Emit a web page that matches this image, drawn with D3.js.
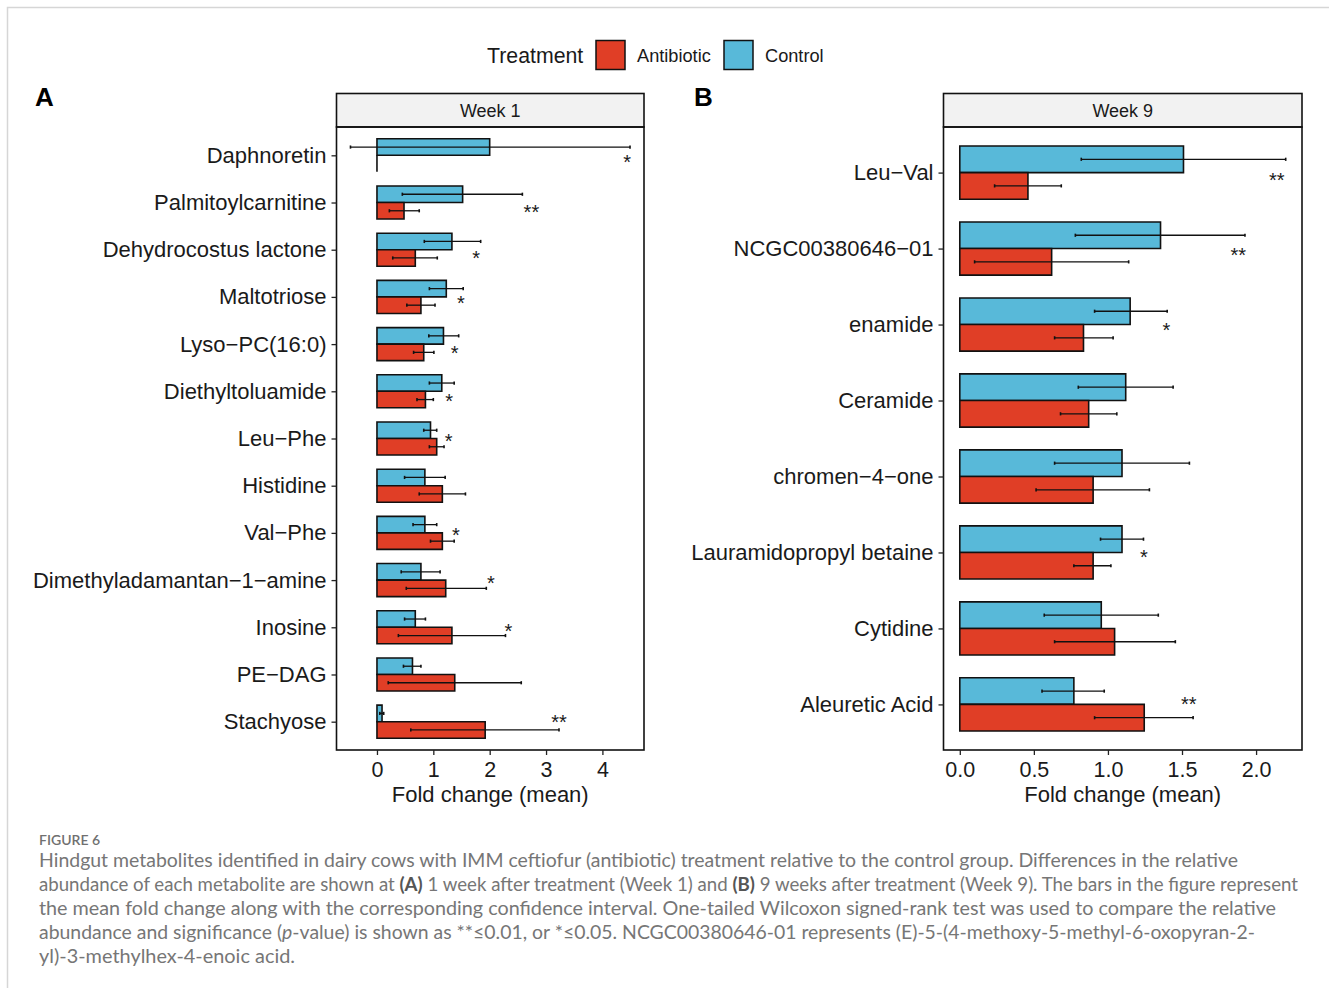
<!DOCTYPE html>
<html>
<head>
<meta charset="utf-8">
<script src="https://cdn.jsdelivr.net/npm/d3@7"></script>
<style>
  html, body { margin: 0; padding: 0; background: #fff; }
  svg { display: block; }
</style>
</head>
<body>
<svg id="fig" width="1329" height="988"></svg>
<script>
// ---- Week 1 metabolites (fold change, mean with CI) ----
const week1Categories = ["Daphnoretin", "Palmitoylcarnitine", "Dehydrocostus lactone", "Maltotriose",
  "Lyso\u2212PC(16:0)", "Diethyltoluamide", "Leu\u2212Phe", "Histidine", "Val\u2212Phe",
  "Dimethyladamantan\u22121\u2212amine", "Inosine", "PE\u2212DAG", "Stachyose"];
const week1Control      = [2.00, 1.52, 1.33, 1.23, 1.18, 1.15, 0.95, 0.85, 0.85, 0.78, 0.68, 0.63, 0.09];
const week1ControlLo    = [-0.47, 0.45, 0.84, 0.93, 0.92, 0.93, 0.83, 0.49, 0.64, 0.43, 0.49, 0.47, 0.05];
const week1ControlHi    = [4.49, 2.58, 1.84, 1.53, 1.45, 1.37, 1.06, 1.21, 1.06, 1.12, 0.86, 0.78, 0.12];
const week1Antibiotic   = [0.00, 0.48, 0.68, 0.78, 0.83, 0.86, 1.06, 1.16, 1.16, 1.22, 1.33, 1.38, 1.92];
const week1AntibioticLo = [0.00, 0.22, 0.28, 0.53, 0.65, 0.71, 0.93, 0.75, 0.95, 0.52, 0.38, 0.20, 0.60];
const week1AntibioticHi = [0.00, 0.75, 1.07, 1.03, 1.01, 1.00, 1.19, 1.57, 1.37, 1.94, 2.28, 2.56, 3.23];
const week1Signif       = ["*", "**", "*", "*", "*", "*", "*", "", "*", "*", "*", "", "**"];
const week1SignifAt     = [4.44, 2.74, 1.76, 1.49, 1.38, 1.28, 1.27, null, 1.40, 2.02, 2.33, null, 3.23];
const week1SignifShift  = [0.04, 0.10, 0.09, 0.03, 0.09, 0.11, -0.05, 0, -0.05, -0.04, -0.01, 0, -0.08];
const week1Ticks = [0, 1, 2, 3, 4];

// ---- Week 9 metabolites ----
const week9Categories = ["Leu\u2212Val", "NCGC00380646\u221201", "enamide", "Ceramide",
  "chromen\u22124\u2212one", "Lauramidopropyl betaine", "Cytidine", "Aleuretic Acid"];
const week9Control      = [1.51, 1.355, 1.15, 1.12, 1.095, 1.095, 0.955, 0.77];
const week9ControlLo    = [0.82, 0.78, 0.91, 0.80, 0.64, 0.95, 0.57, 0.555];
const week9ControlHi    = [2.20, 1.925, 1.40, 1.44, 1.55, 1.24, 1.34, 0.975];
const week9Antibiotic   = [0.46, 0.62, 0.835, 0.87, 0.90, 0.90, 1.045, 1.245];
const week9AntibioticLo = [0.235, 0.10, 0.64, 0.68, 0.515, 0.77, 0.64, 0.91];
const week9AntibioticHi = [0.685, 1.14, 1.035, 1.06, 1.28, 1.02, 1.455, 1.575];
const week9Signif       = ["**", "**", "*", "", "", "*", "", "**"];
const week9SignifAt     = [2.14, 1.88, 1.395, null, null, 1.243, null, 1.546];
const week9SignifShift  = [0.04, 0.02, 0.01, 0, 0, 0, 0, -0.06];
const week9Ticks = [0, 0.5, 1, 1.5, 2];

const treatments = ["Antibiotic", "Control"];
const treatmentColors = { Antibiotic: "#E03E26", Control: "#58B9D9" };

// ---- drawing ----
const svg = d3.select("#fig");
const FONT = "'Liberation Sans', Arial, Helvetica, sans-serif";

svg.append("rect").attr("width", 1329).attr("height", 988).attr("fill", "#fff");
// card outline
svg.append("path")
  .attr("d", "M7.5,988 V7.5 H1329")
  .attr("fill", "none").attr("stroke", "#d6d6d6").attr("stroke-width", 1.5);

// legend
const legend = svg.append("g").attr("font-family", FONT).attr("fill", "#1a1a1a");
legend.append("text").attr("x", 487).attr("y", 62.5).attr("font-size", 21.3).text("Treatment");
const legendX = { Antibiotic: 596, Control: 724 };
treatments.forEach(t => {
  legend.append("rect").attr("x", legendX[t]).attr("y", 40.5).attr("width", 29).attr("height", 29)
    .attr("fill", treatmentColors[t]).attr("stroke", "#111").attr("stroke-width", 1.5);
  legend.append("text").attr("x", legendX[t] + 41).attr("y", 61.5).attr("font-size", 18.2).text(t);
});

// panel tags
svg.append("text").attr("x", 35).attr("y", 106).attr("font-family", FONT)
  .attr("font-weight", "bold").attr("font-size", 26).text("A");
svg.append("text").attr("x", 694).attr("y", 106).attr("font-family", FONT)
  .attr("font-weight", "bold").attr("font-size", 26).text("B");

function drawPanel(p) {
  const g = svg.append("g").attr("font-family", FONT);
  const allLo = d3.min([...p.ctrlLo, ...p.abxLo, ...p.ctrl, ...p.abx, 0]);
  const allHi = d3.max([...p.ctrlHi, ...p.abxHi, ...p.ctrl, ...p.abx]);
  const pad = (allHi - allLo) * 0.05;
  const x = d3.scaleLinear().domain([allLo - pad, allHi + pad]).range([p.left, p.right]);
  const y = d3.scalePoint().domain(p.cats).range([p.top, p.bottom]).padding(0.6);
  const half = y.step() * 0.35;

  // strip
  g.append("rect").attr("x", p.left).attr("y", p.stripTop)
    .attr("width", p.right - p.left).attr("height", p.top - p.stripTop)
    .attr("fill", "#F2F2F2").attr("stroke", "#111").attr("stroke-width", 1.6);
  g.append("text").attr("x", (p.left + p.right) / 2).attr("y", p.stripTop + 23)
    .attr("text-anchor", "middle").attr("font-size", 18).attr("fill", "#1a1a1a").text(p.title);

  const rows = p.cats.map((c, i) => ([
    { cat: c, t: "Control", v: p.ctrl[i], lo: p.ctrlLo[i], hi: p.ctrlHi[i], off: -half / 2 },
    { cat: c, t: "Antibiotic", v: p.abx[i], lo: p.abxLo[i], hi: p.abxHi[i], off: half / 2 }
  ])).flat();

  // bars (paths so that a zero-length bar still shows its outline)
  g.append("g").selectAll("path").data(rows).join("path")
    .attr("d", d => {
      const yc = y(d.cat) + d.off;
      const x0 = x(0), x1 = x(d.v);
      return `M${x0},${yc - half / 2}H${x1}V${yc + half / 2}H${x0}Z`;
    })
    .attr("fill", d => treatmentColors[d.t])
    .attr("stroke", "#111").attr("stroke-width", 1.6);

  // error bars
  const eb = g.append("g").attr("stroke", "#111").attr("stroke-width", 1.3);
  rows.filter(d => d.hi > d.lo).forEach(d => {
    const yc = y(d.cat) + d.off;
    eb.append("line").attr("x1", x(d.lo)).attr("x2", x(d.hi)).attr("y1", yc).attr("y2", yc);
    [d.lo, d.hi].forEach(v => {
      eb.append("line").attr("x1", x(v)).attr("x2", x(v)).attr("y1", yc - 1.6).attr("y2", yc + 1.6)
        .attr("stroke-width", 1.6);
    });
  });

  // significance marks
  p.cats.forEach((c, i) => {
    if (!p.sig[i]) return;
    g.append("text")
      .attr("x", x(p.sigAt[i]))
      .attr("y", y(c) + p.sigShift[i] * y.step() + 11.5)
      .attr("text-anchor", "middle").attr("font-size", 20).attr("fill", "#1a1a1a")
      .text(p.sig[i]);
  });

  // panel border
  g.append("rect").attr("x", p.left).attr("y", p.top)
    .attr("width", p.right - p.left).attr("height", p.bottom - p.top)
    .attr("fill", "none").attr("stroke", "#111").attr("stroke-width", 1.6);

  // axes
  const ya = g.append("g").attr("transform", `translate(${p.left},0)`)
    .call(d3.axisLeft(y).tickSize(5).tickPadding(5));
  const xa = g.append("g").attr("transform", `translate(0,${p.bottom})`)
    .call(d3.axisBottom(x).tickValues(p.ticks).tickFormat(p.fmt).tickSize(5).tickPadding(7));
  [ya, xa].forEach(a => {
    a.select(".domain").remove();
    a.selectAll(".tick line").attr("stroke", "#222").attr("stroke-width", 1.3);
    a.selectAll(".tick text").attr("font-family", FONT).attr("fill", "#1a1a1a");
  });
  ya.selectAll(".tick text").attr("font-size", 22);
  xa.selectAll(".tick text").attr("font-size", 21.5);

  g.append("text").attr("x", (p.left + p.right) / 2).attr("y", 802)
    .attr("text-anchor", "middle").attr("font-size", 22).attr("fill", "#1a1a1a")
    .text("Fold change (mean)");
}

drawPanel({
  title: "Week 1", left: 336.5, right: 644, stripTop: 93.5, top: 127, bottom: 750,
  cats: week1Categories, ctrl: week1Control, ctrlLo: week1ControlLo, ctrlHi: week1ControlHi,
  abx: week1Antibiotic, abxLo: week1AntibioticLo, abxHi: week1AntibioticHi,
  sig: week1Signif, sigAt: week1SignifAt, sigShift: week1SignifShift,
  ticks: week1Ticks, fmt: d3.format("d")
});
drawPanel({
  title: "Week 9", left: 943.5, right: 1302, stripTop: 93.5, top: 127, bottom: 750,
  cats: week9Categories, ctrl: week9Control, ctrlLo: week9ControlLo, ctrlHi: week9ControlHi,
  abx: week9Antibiotic, abxLo: week9AntibioticLo, abxHi: week9AntibioticHi,
  sig: week9Signif, sigAt: week9SignifAt, sigShift: week9SignifShift,
  ticks: week9Ticks, fmt: d3.format(".1f")
});

// ---- caption ----
const CAP = "Lato, 'Open Sans', sans-serif";
svg.append("text").attr("x", 39).attr("y", 845).attr("font-family", CAP)
  .attr("font-size", 14).attr("font-weight", 600).attr("fill", "#707070").text("FIGURE 6");

const captionLines = [
  { w: 1199, parts: [["Hindgut metabolites identified in dairy cows with IMM ceftiofur (antibiotic) treatment relative to the control group. Differences in the relative"]] },
  { w: 1259, parts: [["abundance of each metabolite are shown at "], ["(A)", "b"], [" 1 week after treatment (Week 1) and "], ["(B)", "b"], [" 9 weeks after treatment (Week 9). The bars in the figure represent"]] },
  { w: 1237, parts: [["the mean fold change along with the corresponding confidence interval. One-tailed Wilcoxon signed-rank test was used to compare the relative"]] },
  { w: 1216, parts: [["abundance and significance ("], ["p", "i"], ["-value) is shown as **\u22640.01, or *\u22640.05. NCGC00380646-01 represents (E)-5-(4-methoxy-5-methyl-6-oxopyran-2-"]] },
  { w: 256, parts: [["yl)-3-methylhex-4-enoic acid."]] }
];
captionLines.forEach((ln, i) => {
  const t = svg.append("text").attr("x", 39).attr("y", 866.5 + i * 24)
    .attr("font-family", CAP).attr("font-size", 18.5).attr("fill", "#767676")
    .attr("textLength", ln.w).attr("lengthAdjust", "spacingAndGlyphs");
  ln.parts.forEach(([s, st]) => {
    const ts = t.append("tspan").text(s);
    if (st === "b") ts.attr("font-weight", "bold").attr("fill", "#555");
    if (st === "i") ts.attr("font-style", "italic");
  });
});
</script>
</body>
</html>
